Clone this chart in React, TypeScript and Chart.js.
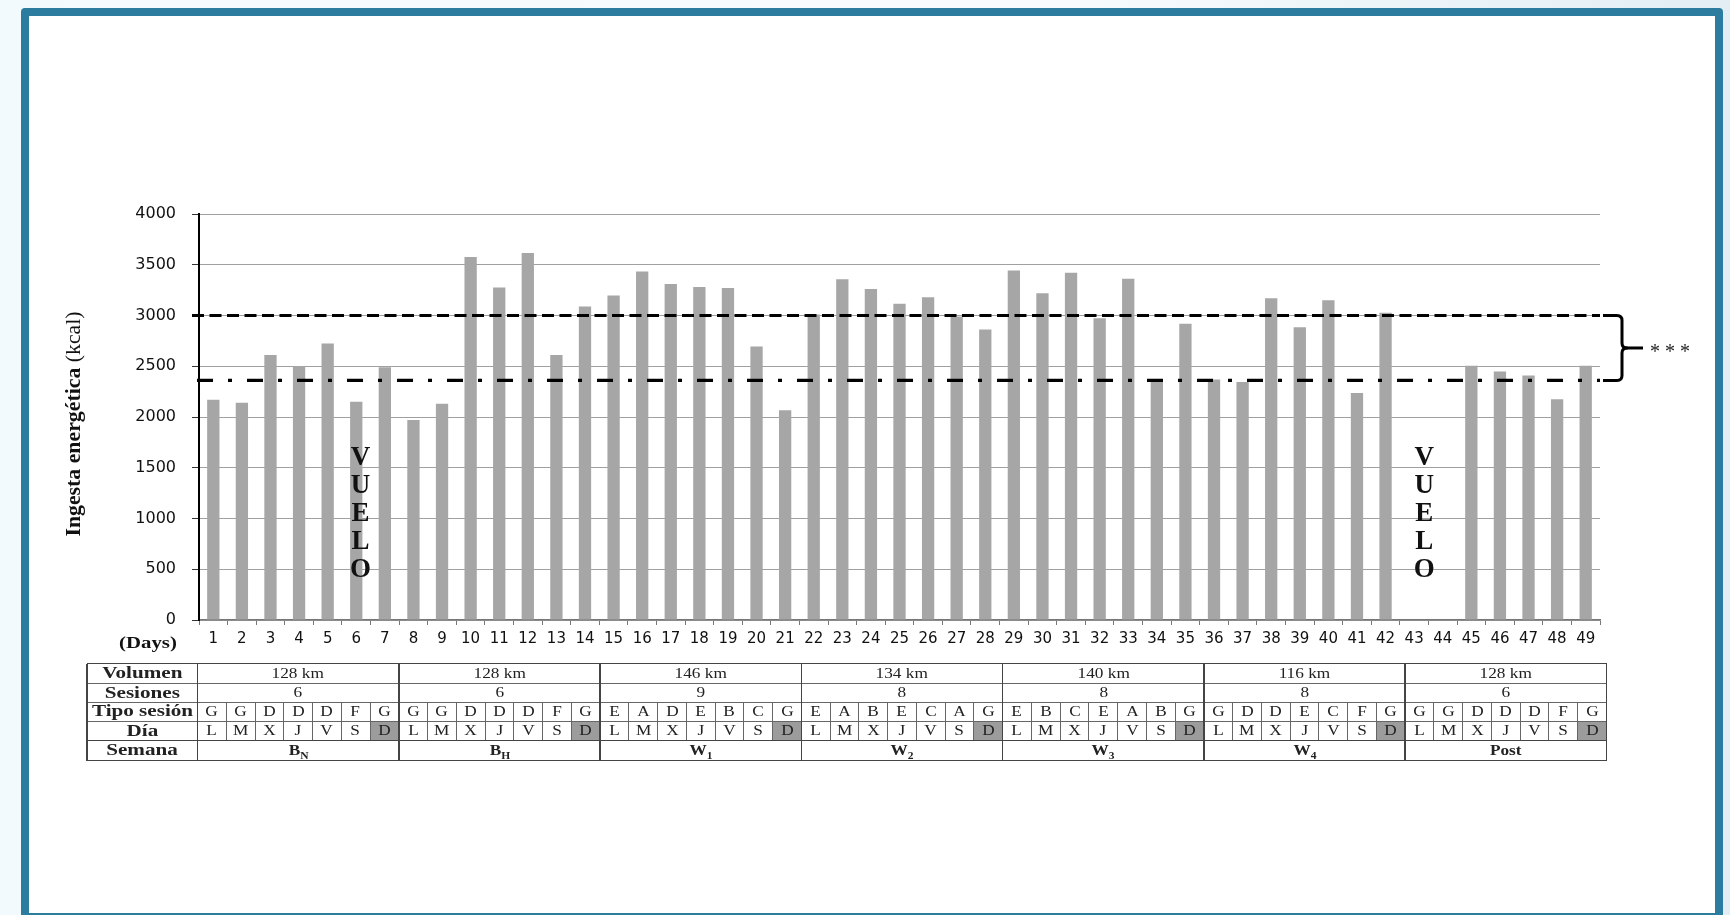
import React, { useEffect, useRef } from 'react';
import { Chart, registerables } from 'chart.js';

Chart.register(...registerables);

// Daily energy intake over the 7-week period
const DAYS = [
  '1', '2', '3', '4', '5', '6', '7', '8', '9', '10', '11', '12', '13', '14',
  '15', '16', '17', '18', '19', '20', '21', '22', '23', '24', '25', '26', '27', '28',
  '29', '30', '31', '32', '33', '34', '35', '36', '37', '38', '39', '40', '41', '42',
  '43', '44', '45', '46', '47', '48', '49',
];

const INTAKE_KCAL: (number | null)[] = [
  2170, 2140, 2610, 2500, 2725, 2150, 2490,
  1970, 2130, 3577, 3275, 3616, 2610, 3089,
  3197, 3433, 3311, 3282, 3272, 2695, 2066,
  3010, 3357, 3262, 3115, 3180, 2990, 2862,
  3443, 3220, 3420, 2974, 3361, 2361, 2918,
  2370, 2344, 3170, 2885, 3151, 2236, 3026,
  null, null, 2505, 2449, 2410, 2174, 2505,
];

// Horizontal reference levels: dashed (upper) and dash-dot (lower)
const REFERENCE_LEVELS = [3000, 2360];

// Travel days ("VUELO"), as day positions on the x axis
const FLIGHT_DAYS = [6.15, 43.35];
const FLIGHT_WORD = ['V', 'U', 'E', 'L', 'O'];
const FLIGHT_TOP_VALUE = 1600;

const Y_TICKS = [0, 500, 1000, 1500, 2000, 2500, 3000, 3500, 4000];

// Table under the chart
const ROW_LABELS = ['Volumen', 'Sesiones', 'Tipo sesión', 'Día', 'Semana'];
const WEEK_VOLUME = ['128 km', '128 km', '146 km', '134 km', '140 km', '116 km', '128 km'];
const WEEK_SESSIONS = ['6', '6', '9', '8', '8', '8', '6'];
const SESSION_TYPES = [
  ['G', 'G', 'D', 'D', 'D', 'F', 'G'],
  ['G', 'G', 'D', 'D', 'D', 'F', 'G'],
  ['E', 'A', 'D', 'E', 'B', 'C', 'G'],
  ['E', 'A', 'B', 'E', 'C', 'A', 'G'],
  ['E', 'B', 'C', 'E', 'A', 'B', 'G'],
  ['G', 'D', 'D', 'E', 'C', 'F', 'G'],
  ['G', 'G', 'D', 'D', 'D', 'F', 'G'],
];
const WEEKDAYS = ['L', 'M', 'X', 'J', 'V', 'S', 'D'];
const WEEK_NAMES = ['B', 'B', 'W', 'W', 'W', 'W', 'Post'];
const WEEK_SUBSCRIPTS = ['N', 'H', '1', '2', '3', '4', ''];

// Table geometry
const T_LEFT = 87;
const T_LABEL_RIGHT = 197.5;
const T_RIGHT = 1606.5;
const T_ROWS = [663.5, 683.3, 702.3, 721, 740.5, 760.5];
const CELL_W = (T_RIGHT - T_LABEL_RIGHT) / 49;

const SERIF = '"Liberation Serif", "Times New Roman", serif';
const SANS = '"DejaVu Sans", Verdana, sans-serif';

function stretchedText(
  ctx: CanvasRenderingContext2D,
  text: string,
  x: number,
  y: number,
  sx: number,
  align: CanvasTextAlign,
) {
  ctx.save();
  ctx.translate(x, y);
  ctx.scale(sx, 1);
  ctx.textAlign = align;
  ctx.fillText(text, 0, 0);
  ctx.restore();
}

const annotations = {
  id: 'intakeAnnotations',
  afterDatasetsDraw(chart: any) {
    const ctx: CanvasRenderingContext2D = chart.ctx;
    const { x, y } = chart.scales;
    const area = chart.chartArea;
    ctx.save();

    // reference lines
    const yUpper = y.getPixelForValue(REFERENCE_LEVELS[0]);
    const yLower = y.getPixelForValue(REFERENCE_LEVELS[1]);
    ctx.strokeStyle = '#000';
    ctx.lineWidth = 3.2;
    ctx.lineCap = 'butt';
    ctx.setLineDash([12, 5.5]);
    ctx.beginPath();
    ctx.moveTo(area.left - 7, yUpper);
    ctx.lineTo(area.right, yUpper);
    ctx.stroke();
    ctx.setLineDash([16, 15, 4, 15]);
    ctx.beginPath();
    ctx.moveTo(area.left - 2, yLower);
    ctx.lineTo(area.right, yLower);
    ctx.stroke();
    ctx.setLineDash([]);

    // curly brace between the two levels
    const x0 = area.right + 3;
    const xc = x0 + 19;
    const ym = (yUpper + yLower) / 2;
    const r = 5;
    ctx.lineWidth = 3;
    ctx.lineJoin = 'round';
    ctx.beginPath();
    ctx.moveTo(x0, yUpper);
    ctx.lineTo(xc - r, yUpper);
    ctx.quadraticCurveTo(xc, yUpper, xc, yUpper + r);
    ctx.lineTo(xc, ym - r);
    ctx.quadraticCurveTo(xc, ym, xc + r, ym);
    ctx.quadraticCurveTo(xc, ym, xc, ym + r);
    ctx.lineTo(xc, yLower - r);
    ctx.quadraticCurveTo(xc, yLower, xc - r, yLower);
    ctx.lineTo(x0, yLower);
    ctx.stroke();
    ctx.beginPath();
    ctx.moveTo(xc + 2, ym);
    ctx.lineTo(xc + 21, ym);
    ctx.stroke();

    ctx.fillStyle = '#222';
    ctx.font = `20px ${SERIF}`;
    ctx.textAlign = 'left';
    ctx.textBaseline = 'alphabetic';
    ctx.fillText('* * *', xc + 28, ym + 10);

    // VUELO markers
    ctx.fillStyle = '#111';
    ctx.font = `bold 27px ${SERIF}`;
    ctx.textAlign = 'center';
    ctx.textBaseline = 'middle';
    const yTop = y.getPixelForValue(FLIGHT_TOP_VALUE);
    FLIGHT_DAYS.forEach((d) => {
      const px = x.getPixelForValue(d - 1);
      FLIGHT_WORD.forEach((ch, i) => {
        ctx.fillText(ch, px, yTop + i * 28);
      });
    });

    // "(Days)" row caption
    ctx.fillStyle = '#111';
    ctx.font = `bold 16px ${SERIF}`;
    ctx.textBaseline = 'middle';
    stretchedText(ctx, '(Days)', 148, 644, 1.3, 'center');

    // y-axis title: bold part + regular unit
    const bold = 'Ingesta energética ';
    const unit = '(kcal)';
    const fs = 21.8;
    ctx.font = `bold ${fs}px ${SERIF}`;
    const wBold = ctx.measureText(bold).width;
    ctx.font = `${fs}px ${SERIF}`;
    const wUnit = ctx.measureText(unit).width;
    const total = wBold + wUnit;
    ctx.save();
    ctx.translate(74, 424);
    ctx.rotate(-Math.PI / 2);
    ctx.textAlign = 'left';
    ctx.textBaseline = 'middle';
    ctx.font = `bold ${fs}px ${SERIF}`;
    ctx.fillText(bold, -total / 2, 0);
    ctx.font = `${fs}px ${SERIF}`;
    ctx.fillText(unit, -total / 2 + wBold, 0);
    ctx.restore();

    ctx.restore();
  },
};

function colX(i: number) {
  return T_LABEL_RIGHT + i * CELL_W;
}

function Cell(props: {
  x0: number; x1: number; y0: number; y1: number;
  children: React.ReactNode; bold?: boolean; size?: number; sx?: number; bg?: string;
}) {
  const { x0, x1, y0, y1, children, bold, size = 15, sx = 1.15, bg } = props;
  return (
    <div
      style={{
        position: 'absolute', left: x0, top: y0, width: x1 - x0, height: y1 - y0,
        display: 'flex', alignItems: 'center', justifyContent: 'center',
        background: bg || 'transparent',
        fontFamily: SERIF, fontSize: size, fontWeight: bold ? 'bold' : 'normal',
        color: '#222', lineHeight: 1, whiteSpace: 'nowrap',
      }}
    >
      <span style={{ display: 'inline-block', transform: `scaleX(${sx})` }}>{children}</span>
    </div>
  );
}

function Line(props: { x: number; y: number; w: number; h: number; c?: string }) {
  const { x, y, w, h, c = '#555' } = props;
  return <div style={{ position: 'absolute', left: x, top: y, width: w, height: h, background: c }} />;
}

function TrainingTable() {
  const cells: React.ReactNode[] = [];
  const lines: React.ReactNode[] = [];
  const R = T_ROWS;

  // Sunday shading in the Día row
  for (let w = 0; w < 7; w++) {
    const i = w * 7 + 6;
    cells.push(<div key={`bg${w}`} style={{ position: 'absolute', left: colX(i), top: R[3], width: CELL_W, height: R[4] - R[3], background: '#9c9c9c' }} />);
  }

  ROW_LABELS.forEach((label, r) => {
    cells.push(
      <Cell key={`lab${r}`} x0={T_LEFT} x1={T_LABEL_RIGHT} y0={R[r]} y1={R[r + 1]} bold size={16.5} sx={1.28}>{label}</Cell>,
    );
  });

  for (let w = 0; w < 7; w++) {
    const a = colX(w * 7);
    const b = colX(w * 7 + 7);
    cells.push(<Cell key={`vol${w}`} x0={a} x1={b} y0={R[0]} y1={R[1]}>{WEEK_VOLUME[w]}</Cell>);
    cells.push(<Cell key={`ses${w}`} x0={a} x1={b} y0={R[1]} y1={R[2]}>{WEEK_SESSIONS[w]}</Cell>);
    cells.push(
      <Cell key={`sem${w}`} x0={a} x1={b} y0={R[4]} y1={R[5]} bold size={15} sx={1.15}>
        {WEEK_NAMES[w]}
        {WEEK_SUBSCRIPTS[w] ? (
          <span style={{ fontSize: 10, position: 'relative', top: 4 }}>{WEEK_SUBSCRIPTS[w]}</span>
        ) : null}
      </Cell>,
    );
    for (let d = 0; d < 7; d++) {
      const i = w * 7 + d;
      cells.push(<Cell key={`t${i}`} x0={colX(i)} x1={colX(i + 1)} y0={R[2]} y1={R[3]}>{SESSION_TYPES[w][d]}</Cell>);
      cells.push(<Cell key={`d${i}`} x0={colX(i)} x1={colX(i + 1)} y0={R[3]} y1={R[4]}>{WEEKDAYS[d]}</Cell>);
    }
  }

  // horizontal rules
  R.forEach((yy, k) => {
    const edge = k === 0 || k === R.length - 1 || k === 4;
    lines.push(<Line key={`h${k}`} x={T_LEFT} y={yy - (edge ? 0.75 : 0.5)} w={T_RIGHT - T_LEFT} h={edge ? 1.5 : 1} c={edge ? '#444' : '#666'} />);
  });
  // vertical rules
  lines.push(<Line key="vL" x={T_LEFT - 0.75} y={R[0]} w={1.5} h={R[5] - R[0]} c="#444" />);
  lines.push(<Line key="vLab" x={T_LABEL_RIGHT - 0.75} y={R[0]} w={1.5} h={R[5] - R[0]} c="#444" />);
  for (let w = 1; w <= 7; w++) {
    lines.push(<Line key={`vw${w}`} x={colX(w * 7) - 0.75} y={R[0]} w={1.5} h={R[5] - R[0]} c="#444" />);
  }
  for (let i = 1; i < 49; i++) {
    if (i % 7 === 0) continue;
    lines.push(<Line key={`vd${i}`} x={colX(i) - 0.5} y={R[2]} w={1} h={R[4] - R[2]} c="#666" />);
  }

  return (
    <>
      {cells}
      {lines}
    </>
  );
}

export default function App() {
  const canvasRef = useRef<HTMLCanvasElement | null>(null);

  useEffect(() => {
    document.body.style.margin = '0';
    const canvas = canvasRef.current;
    if (!canvas) return;
    const chart = new Chart(canvas, {
      type: 'bar',
      data: {
        labels: DAYS,
        datasets: [
          {
            data: INTAKE_KCAL,
            backgroundColor: '#a6a6a6',
            borderWidth: 0,
            barPercentage: 0.43,
            categoryPercentage: 1,
          },
        ],
      },
      options: {
        responsive: false,
        devicePixelRatio: 1,
        animation: false,
        layout: { padding: { left: 100, right: 130, top: 214, bottom: 255 } },
        plugins: { legend: { display: false }, tooltip: { enabled: false }, title: { display: false } },
        scales: {
          x: {
            type: 'category',
            offset: true,
            grid: {
              offset: true,
              drawOnChartArea: false,
              drawTicks: true,
              tickLength: 5,
              color: '#777',
              tickColor: '#777',
            },
            border: { color: '#777', width: 1.5 },
            ticks: {
              autoSkip: false,
              maxRotation: 0,
              minRotation: 0,
              padding: 5,
              color: '#111',
              font: { family: SANS, size: 15 },
            },
            afterFit: (s: any) => { s.height = 40; },
          },
          y: {
            min: 0,
            max: 4000,
            afterBuildTicks: (s: any) => { s.ticks = Y_TICKS.map((v) => ({ value: v })); },
            grid: {
              color: '#a0a0a0',
              lineWidth: 1,
              drawTicks: true,
              tickLength: 7,
              tickColor: '#333',
            },
            border: { color: '#000', width: 2 },
            ticks: {
              padding: 16,
              color: '#111',
              font: { family: SANS, size: 16 },
              callback: (v: any) => String(v),
            },
            afterFit: (s: any) => { s.width = 99; },
          },
        },
      },
      plugins: [annotations],
    });
    return () => chart.destroy();
  }, []);

  return (
    <div
      style={{
        position: 'fixed', left: 0, top: 0, width: 1730, height: 915, overflow: 'hidden',
        background: 'linear-gradient(90deg, #f3fafd 0%, #f7fbfd 60%, #e2eef4 100%)',
      }}
    >
      <div
        style={{
          position: 'absolute', left: 21, top: 8, width: 1702, height: 913,
          boxSizing: 'border-box', border: '8px solid #2c7ca0', borderRadius: 4, background: '#fff',
        }}
      />
      <canvas ref={canvasRef} width={1730} height={915} style={{ position: 'absolute', left: 0, top: 0, width: 1730, height: 915 }} />
      <TrainingTable />
    </div>
  );
}
